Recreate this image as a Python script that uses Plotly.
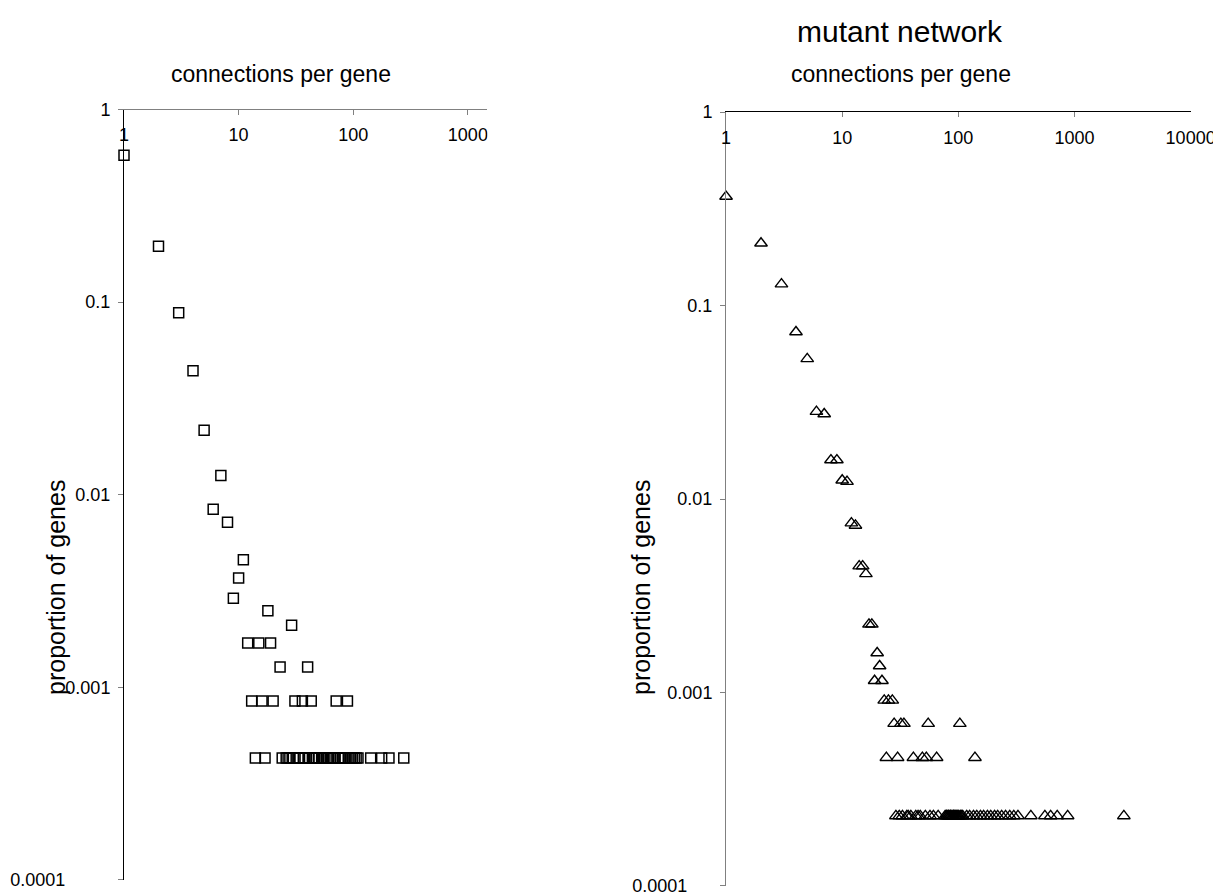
import plotly.graph_objects as go

# ---------------- data ----------------
# left panel (squares)
left_connections = [1, 2, 3, 4, 5, 6, 7, 8, 9, 10, 11,
                    12, 13, 14, 15, 16, 17, 18, 19, 20,
                    23, 29, 31, 36, 40, 43, 71, 89,
                    24, 26, 27, 28, 30, 33, 34, 37, 38, 41, 44, 46, 48, 50,
                    53, 55, 58, 60, 63, 66, 68, 74, 77, 80, 83, 85, 92, 95,
                    98, 102, 106, 110, 142, 177, 205, 276]
left_proportion = [0.58, 0.195, 0.088, 0.044, 0.0216, 0.0084, 0.0126, 0.0072, 0.0029, 0.0037, 0.0046,
                   0.0017, 0.00085, 0.00043, 0.0017, 0.00085, 0.00043, 0.0025, 0.0017, 0.00085,
                   0.001275, 0.0021, 0.00085, 0.00085, 0.001275, 0.00085, 0.00085, 0.00085,
                   0.00043, 0.00043, 0.00043, 0.00043, 0.00043, 0.00043, 0.00043, 0.00043, 0.00043,
                   0.00043, 0.00043, 0.00043, 0.00043, 0.00043, 0.00043, 0.00043, 0.00043, 0.00043,
                   0.00043, 0.00043, 0.00043, 0.00043, 0.00043, 0.00043, 0.00043, 0.00043, 0.00043,
                   0.00043, 0.00043, 0.00043, 0.00043, 0.00043, 0.00043, 0.00043, 0.00043, 0.00043]

# right panel (triangles) - mutant network
right_connections = [1, 2, 3, 4, 5, 6, 7, 8, 9, 10, 11, 12, 13, 14, 15, 16,
                     17, 18, 19, 20, 21, 22, 23, 25, 27,
                     28, 32, 34, 55, 103,
                     24, 30, 41, 49, 53, 65, 139,
                     29, 31, 33, 36, 37, 39, 43, 45, 47, 52, 57, 61, 67,
                     77, 79, 80, 82, 83, 85, 86, 88, 90, 91, 93, 95, 97, 99, 101, 104, 106, 109,
                     118, 125, 135, 144, 155, 165, 178, 190, 205, 218, 236, 255, 277, 300, 326,
                     421, 556, 623, 710, 873, 2661]
right_proportion = [0.366, 0.21, 0.129, 0.073, 0.053, 0.0283, 0.0275, 0.0159, 0.0159, 0.0125, 0.0123,
                    0.0075, 0.0073, 0.0045, 0.0045, 0.0041,
                    0.00225, 0.00225, 0.00115, 0.0016, 0.00137, 0.00115, 0.00091, 0.00091, 0.00091,
                    0.00069, 0.00069, 0.00069, 0.00069, 0.00069,
                    0.00046, 0.00046, 0.00046, 0.00046, 0.00046, 0.00046, 0.00046,
                    0.00023, 0.00023, 0.00023, 0.00023, 0.00023, 0.00023, 0.00023, 0.00023, 0.00023,
                    0.00023, 0.00023, 0.00023, 0.00023,
                    0.00023, 0.00023, 0.00023, 0.00023, 0.00023, 0.00023, 0.00023, 0.00023, 0.00023,
                    0.00023, 0.00023, 0.00023, 0.00023, 0.00023, 0.00023, 0.00023, 0.00023, 0.00023,
                    0.00023, 0.00023, 0.00023, 0.00023, 0.00023, 0.00023, 0.00023, 0.00023, 0.00023,
                    0.00023, 0.00023, 0.00023, 0.00023, 0.00023, 0.00023,
                    0.00023, 0.00023, 0.00023, 0.00023, 0.00023, 0.00023]

x_tickvals_left = [1, 10, 100, 1000]
x_ticktext_left = ["1", "10", "100", "1000"]
x_tickvals_right = [1, 10, 100, 1000, 10000]
x_ticktext_right = ["1", "10", "100", "1000", "10000"]
y_tickvals = [1, 0.1, 0.01, 0.001, 0.0001]
y_ticktext = ["1", "0.1", "0.01", "0.001", "0.0001"]

chart_title = "mutant network"
x_title = "connections per gene"
y_title = "proportion of genes"

# ---------------- figure ----------------
W, H = 1221, 896
OX, OY = 8, 8          # page body margin offset
FONT = "Arial, Liberation Sans, sans-serif"


def px_x(p):
    return (p - OX) / W


def px_y(p):
    return 1 - (p - OY) / H


fig = go.Figure()

fig.add_trace(go.Scatter(
    x=left_connections, y=left_proportion, mode="markers",
    marker=dict(symbol="square-open", size=10, color="black", line=dict(width=1.5, color="black")),
    xaxis="x", yaxis="y", showlegend=False, cliponaxis=False))

fig.add_trace(go.Scatter(
    x=right_connections, y=right_proportion, mode="markers",
    marker=dict(symbol="triangle-up-open", size=11, color="black", line=dict(width=1.4, color="black")),
    xaxis="x2", yaxis="y2", showlegend=False, cliponaxis=False))

tickfont = dict(family=FONT, size=18, color="black")
NB = "\u00a0"

common_x = dict(type="log", side="top", showgrid=False, zeroline=False, showline=True, linewidth=1,
                ticks="inside", ticklen=5, tickwidth=1, tickcolor="#808080",
                ticklabelposition="inside", ticklabeloverflow="allow",
                tickfont=tickfont, ticklabelstandoff=15, automargin=False)
common_y = dict(type="log", range=[-4.0005, 0.0005], showgrid=False, zeroline=False, showline=True,
                linewidth=1, ticks="outside", ticklen=5, tickwidth=1, tickcolor="#808080",
                tickvals=y_tickvals, tickfont=tickfont, ticklabelstandoff=4,
                ticklabeloverflow="allow", automargin=False)

fig.update_layout(
    width=W, height=H, autosize=False,
    margin=dict(l=0, r=0, t=0, b=0, pad=0, autoexpand=False),
    paper_bgcolor="white", plot_bgcolor="white",
    font=dict(family=FONT, color="black"),
    xaxis=dict(common_x, domain=[px_x(124), px_x(487)], range=[0, 3.167], anchor="y",
               tickvals=x_tickvals_left, ticktext=x_ticktext_left, linecolor="#808080"),
    yaxis=dict(common_y, domain=[px_y(880), px_y(109.5)], anchor="x", linecolor="black",
               ticktext=y_ticktext[:-1] + [y_ticktext[-1] + NB * 9]),
    xaxis2=dict(common_x, domain=[px_x(726), px_x(1190.7)], range=[-0.0005, 4.0005], anchor="y2",
                tickvals=x_tickvals_right, ticktext=x_ticktext_right, linecolor="black"),
    yaxis2=dict(common_y, domain=[px_y(886), px_y(112)], anchor="x2", linecolor="#808080",
                ticktext=y_ticktext[:-1] + [y_ticktext[-1] + NB * 5]),
)

ann = []
ann.append(dict(text=chart_title, x=px_x(900), y=px_y(31), xref="paper", yref="paper",
                showarrow=False, xanchor="center", yanchor="middle",
                font=dict(family=FONT, size=30, color="black")))
for cx in (281, 901):
    ann.append(dict(text=x_title, x=px_x(cx), y=px_y(74), xref="paper", yref="paper",
                    showarrow=False, xanchor="center", yanchor="middle",
                    font=dict(family=FONT, size=23, color="black")))
for cx in (56, 641):
    ann.append(dict(text=y_title, x=px_x(cx), y=px_y(588), xref="paper", yref="paper",
                    showarrow=False, xanchor="center", yanchor="middle", textangle=-90,
                    font=dict(family=FONT, size=25, color="black")))
fig.update_layout(annotations=ann)

# the left chart is cut at its right edge in the reference (clipping the "1000" label)
fig.add_shape(type="rect", xref="paper", yref="paper",
              x0=px_x(487.5), x1=px_x(540), y0=px_y(150), y1=px_y(118),
              fillcolor="white", line=dict(width=0), layer="above")

fig.write_html("out.html")
